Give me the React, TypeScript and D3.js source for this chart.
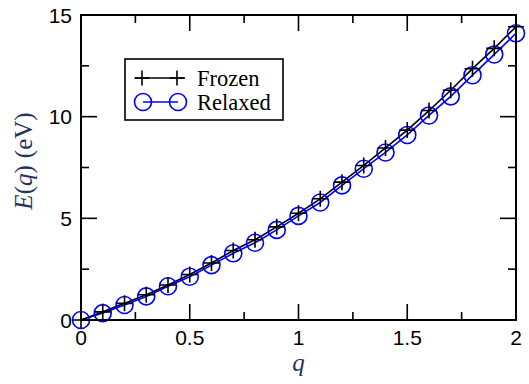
import React from 'react'
import * as d3 from 'd3'

// values
const qValues = [0, 0.1, 0.2, 0.3, 0.4, 0.5, 0.6, 0.7, 0.8, 0.9, 1.0, 1.1, 1.2, 1.3, 1.4, 1.5, 1.6, 1.7, 1.8, 1.9, 2.0]
const frozen = [0, 0.4, 0.82, 1.24, 1.72, 2.24, 2.8, 3.42, 3.95, 4.58, 5.25, 5.96, 6.78, 7.6, 8.46, 9.34, 10.3, 11.3, 12.36, 13.36, 14.42]
const relaxed = [0, 0.34, 0.74, 1.16, 1.66, 2.13, 2.7, 3.28, 3.8, 4.43, 5.12, 5.78, 6.62, 7.44, 8.24, 9.1, 10.06, 11.0, 12.04, 13.06, 14.1]
const xTicks = [0, 0.5, 1, 1.5, 2]
const xTickLabels = ['0', '0.5', '1', '1.5', '2']
const xMinor = [0.25, 0.75, 1.25, 1.75]
const yTicks = [0, 5, 10, 15]
const yTickLabels = ['0', '5', '10', '15']
const yMinor = [2.5, 7.5, 12.5]
const seriesNames = ['Frozen', 'Relaxed']

const margin = { top: 15, right: 13, bottom: 64, left: 81 }
const width = 529
const height = 384
const titleColor = '#25335e'
const sans = { fontFamily: "'Liberation Sans', Arial, Helvetica, sans-serif" }
const serif = { fontFamily: "'Liberation Serif', 'Times New Roman', Times, serif" }

const Plus = ({ x, y, s = 8 }: { x: number, y: number, s?: number }) => (
  <path d={`M${x - s},${y}H${x + s}M${x},${y - s}V${y + s}`} stroke='#000' strokeWidth={1.6} fill='none' />
)

const Ring = ({ x, y, r = 8.5 }: { x: number, y: number, r?: number }) => (
  <circle cx={x} cy={y} r={r} stroke='#0000ff' strokeWidth={1.6} fill='none' />
)

export default function App () {
  const innerW = width - margin.left - margin.right
  const innerH = height - margin.top - margin.bottom
  const x = d3.scaleLinear().domain([0, 2]).range([0, innerW])
  const y = d3.scaleLinear().domain([0, 15]).range([innerH, 0])

  const line = d3.line<number>()
    .x((d, i) => x(qValues[i]))
    .y(d => y(d))

  const majorLen = 16
  const minorLen = 8

  return (
    <svg width={width} height={height} style={{ position: 'absolute', left: 0, top: 0 }}>
      <g transform={`translate(${margin.left},${margin.top})`}>
        {/* data */}
        <path d={line(relaxed) || ''} fill='none' stroke='#0000ff' strokeWidth={1.6} />
        <path d={line(frozen) || ''} fill='none' stroke='#000' strokeWidth={1.6} />
        {relaxed.map((v, i) => <Ring key={'r' + i} x={x(qValues[i])} y={y(v)} />)}
        {frozen.map((v, i) => <Plus key={'f' + i} x={x(qValues[i])} y={y(v)} />)}

        {/* ticks on all four sides, pointing in */}
        {xTicks.map(t => (
          <g key={'xt' + t}>
            <line x1={x(t)} x2={x(t)} y1={innerH} y2={innerH - majorLen} stroke='#000' strokeWidth={1.6} />
            <line x1={x(t)} x2={x(t)} y1={0} y2={majorLen} stroke='#000' strokeWidth={1.6} />
          </g>
        ))}
        {xMinor.map(t => (
          <g key={'xm' + t}>
            <line x1={x(t)} x2={x(t)} y1={innerH} y2={innerH - minorLen} stroke='#000' strokeWidth={1.6} />
            <line x1={x(t)} x2={x(t)} y1={0} y2={minorLen} stroke='#000' strokeWidth={1.6} />
          </g>
        ))}
        {yTicks.map(t => (
          <g key={'yt' + t}>
            <line x1={0} x2={majorLen} y1={y(t)} y2={y(t)} stroke='#000' strokeWidth={1.6} />
            <line x1={innerW} x2={innerW - majorLen} y1={y(t)} y2={y(t)} stroke='#000' strokeWidth={1.6} />
          </g>
        ))}
        {yMinor.map(t => (
          <g key={'ym' + t}>
            <line x1={0} x2={minorLen} y1={y(t)} y2={y(t)} stroke='#000' strokeWidth={1.6} />
            <line x1={innerW} x2={innerW - minorLen} y1={y(t)} y2={y(t)} stroke='#000' strokeWidth={1.6} />
          </g>
        ))}

        {/* frame */}
        <rect x={0} y={0} width={innerW} height={innerH} fill='none' stroke='#000' strokeWidth={2} />

        {/* tick labels */}
        {xTicks.map((t, i) => (
          <text key={'xl' + t} x={x(t)} y={innerH + 25} textAnchor='middle'
            style={sans} fontSize={21}>{xTickLabels[i]}</text>
        ))}
        {yTicks.map((t, i) => (
          <text key={'yl' + t} x={-9} y={y(t)} dy='0.36em' textAnchor='end'
            style={sans} fontSize={21}>{yTickLabels[i]}</text>
        ))}

        {/* axis titles */}
        <text x={x(1)} y={innerH + 51} textAnchor='middle' fill={titleColor}
          style={serif} fontStyle='italic' fontSize={25}>q</text>
        <text transform={`translate(${-49},${146}) rotate(-90)`} textAnchor='middle' fill={titleColor}
          style={serif} fontSize={25}>
          <tspan fontStyle='italic'>E</tspan>(<tspan fontStyle='italic'>q</tspan>)
          <tspan dx={7}>(eV)</tspan>
        </text>

        {/* legend */}
        <g transform={`translate(${125 - margin.left},${59 - margin.top})`}>
          <rect x={0} y={0} width={158} height={61} fill='#fff' stroke='#000' strokeWidth={1.6} />
          {seriesNames.map((name, i) => {
            const cy = 19 + i * 24
            return (
              <g key={name}>
                <line x1={i === 0 ? 10 : 18} x2={i === 0 ? 60 : 53} y1={cy} y2={cy}
                  stroke={i === 0 ? '#000' : '#0000ff'} strokeWidth={1.6} />
                {i === 0
                  ? <><Plus x={17} y={cy} s={7.5} /><Plus x={52} y={cy} s={7.5} /></>
                  : <><Ring x={18} y={cy} /><Ring x={53} y={cy} /></>}
                <text x={72} y={cy} dy='0.34em' style={serif} fontSize={22.5}>{name}</text>
              </g>
            )
          })}
        </g>
      </g>
    </svg>
  )
}
